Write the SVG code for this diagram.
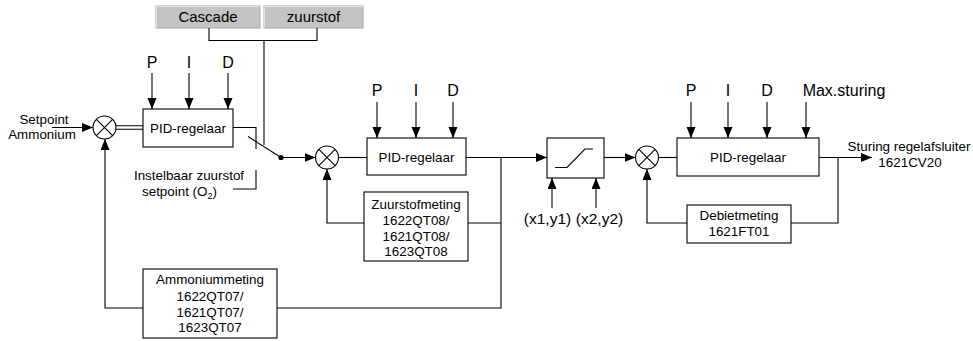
<svg xmlns="http://www.w3.org/2000/svg" width="973" height="341" viewBox="0 0 973 341">
<style>
text{font-family:"Liberation Sans",Arial,sans-serif;fill:#000}
.t{font-size:13.4px}
.b{font-size:16px}
.m{text-anchor:middle}
.box{fill:#fff;stroke:#000;stroke-width:1.1}
.ln{fill:none;stroke:#000;stroke-width:1.1}
.ar{fill:none;stroke:#000;stroke-width:1.1;marker-end:url(#ah)}
.btn{fill:#c3c3c3;stroke:#a8a8a8;stroke-width:1}
</style>
<defs>
<marker id="ah" markerUnits="userSpaceOnUse" markerWidth="12" markerHeight="10" refX="11" refY="4.5" orient="auto">
<path d="M0,0 L11,4.5 L0,9 z" fill="#000"/>
</marker>
</defs>
<rect width="973" height="341" fill="#fff"/>

<g id="btn-cascade">
<rect class="btn" x="156" y="6" width="104" height="22"/>
<path d="M156.5,27.5 V6.5 H259.5" stroke="#e2e2e2" fill="none"/>
<text class="t m" x="208" y="22" style="font-size:15px">Cascade</text>
</g>
<g id="btn-zuurstof">
<rect class="btn" x="264" y="6" width="99" height="22"/>
<path d="M264.5,27.5 V6.5 H362.5" stroke="#e2e2e2" fill="none"/>
<text class="t m" x="313.5" y="22" style="font-size:15px">zuurstof</text>
</g>

<g id="sum1">
<circle cx="104.5" cy="127.5" r="11.5" fill="#fff" stroke="#000" stroke-width="1.1"/>
<path class="ln" d="M96.4,119.4 L112.6,135.6 M112.6,119.4 L96.4,135.6"/>
</g>
<g id="pid1">
<rect class="box" x="143" y="109" width="90" height="38"/>
<text class="t m" x="188" y="133">PID-regelaar</text>
</g>
<g id="pid1-params">
<text class="b m" x="152" y="68">P</text>
<text class="b m" x="189" y="68">I</text>
<text class="b m" x="228" y="68">D</text>
</g>
<g id="sum2">
<circle cx="327" cy="157.5" r="11.5" fill="#fff" stroke="#000" stroke-width="1.1"/>
<path class="ln" d="M318.9,149.4 L335.1,165.6 M335.1,149.4 L318.9,165.6"/>
</g>
<g id="pid2">
<rect class="box" x="367" y="138" width="99" height="37"/>
<text class="t m" x="416.5" y="161.5">PID-regelaar</text>
</g>
<g id="pid2-params">
<text class="b m" x="377" y="95.5">P</text>
<text class="b m" x="416" y="95.5">I</text>
<text class="b m" x="453" y="95.5">D</text>
</g>
<g id="zuurstofmeting">
<rect class="box" x="364" y="192" width="104" height="69"/>
<text class="t m" x="416" y="208.5">Zuurstofmeting</text>
<text class="t m" x="416" y="224.5">1622QT08/</text>
<text class="t m" x="416" y="240.5">1621QT08/</text>
<text class="t m" x="416" y="256">1623QT08</text>
</g>
<g id="ammoniummeting">
<rect class="box" x="143" y="269" width="134" height="69"/>
<text class="t m" x="210" y="284">Ammoniummeting</text>
<text class="t m" x="210" y="300.5">1622QT07/</text>
<text class="t m" x="210" y="316.5">1621QT07/</text>
<text class="t m" x="210" y="332">1623QT07</text>
</g>
<g id="ramp">
<rect class="box" x="547" y="138" width="57" height="40"/>
<path class="ln" d="M555,167.5 H567 L585,149 H593"/>
</g>
<g id="ramp-params">
<text class="t m" x="547.5" y="224" style="font-size:15.5px">(x1,y1)</text>
<text class="t m" x="599.5" y="224" style="font-size:15.5px">(x2,y2)</text>
</g>
<g id="sum3">
<circle cx="647" cy="157.5" r="11.5" fill="#fff" stroke="#000" stroke-width="1.1"/>
<path class="ln" d="M638.9,149.4 L655.1,165.6 M655.1,149.4 L638.9,165.6"/>
</g>
<g id="pid3">
<rect class="box" x="677" y="138" width="142" height="38"/>
<text class="t m" x="748" y="161.5">PID-regelaar</text>
</g>
<g id="pid3-params">
<text class="b m" x="691" y="95.5">P</text>
<text class="b m" x="728" y="95.5">I</text>
<text class="b m" x="767" y="95.5">D</text>
<text class="b m" x="844" y="95.5">Max.sturing</text>
</g>
<g id="debietmeting">
<rect class="box" x="687" y="205" width="104" height="38"/>
<text class="t m" x="739" y="220">Debietmeting</text>
<text class="t m" x="739" y="236">1621FT01</text>
</g>
<g id="labels">
<text class="t m" x="44" y="123.5">Setpoint</text>
<text class="t m" x="42" y="138.5">Ammonium</text>
<text class="t m" x="189" y="180">Instelbaar zuurstof</text>
<text class="t" x="142" y="196">setpoint (O<tspan font-size="9" dy="3">2</tspan><tspan dy="-3">)</tspan></text>
<text class="t m" x="909" y="150.5">Sturing regelafsluiter</text>
<text class="t m" x="910" y="166.5">1621CV20</text>
</g>

<g id="connectors">
<path class="ln" d="M209,28 V40.5 H317 V28 M264,40.5 V145"/>
<path class="ar" d="M52,127.5 H93"/>
<path class="ln" d="M116,125.8 H143 M116,129.2 H143"/>
<path class="ar" d="M152,73 V109"/>
<path class="ar" d="M189,73 V109"/>
<path class="ar" d="M228,73 V109"/>
<path class="ln" d="M233,127.5 H256 V149"/>
<path class="ln" d="M233,189 H256 V170"/>
<path class="ln" d="M248,136.5 L281,157.5"/>
<circle cx="281" cy="157.5" r="2.6" fill="#000"/>
<path class="ar" d="M281,157.5 H315.5"/>
<path class="ln" d="M338.5,157.5 H367"/>
<path class="ar" d="M377,102 V138"/>
<path class="ar" d="M416,102 V138"/>
<path class="ar" d="M453,102 V138"/>
<path class="ar" d="M466,157.5 H547"/>
<path class="ln" d="M501,157.5 V308 H277"/>
<path class="ln" d="M468,223 H501"/>
<path class="ar" d="M364,223 H327 V169"/>
<path class="ar" d="M143,308 H105 V139"/>
<path class="ar" d="M552,208 V178"/>
<path class="ar" d="M596,208 V178"/>
<path class="ar" d="M604,157.5 H635.5"/>
<path class="ln" d="M658.5,157.5 H677"/>
<path class="ar" d="M691,102 V138"/>
<path class="ar" d="M728,102 V138"/>
<path class="ar" d="M767,102 V138"/>
<path class="ar" d="M806,102 V138"/>
<path class="ar" d="M819,157.5 H872"/>
<path class="ln" d="M838,157.5 V223 H791"/>
<path class="ar" d="M687,223 H647 V169"/>
</g>
</svg>
